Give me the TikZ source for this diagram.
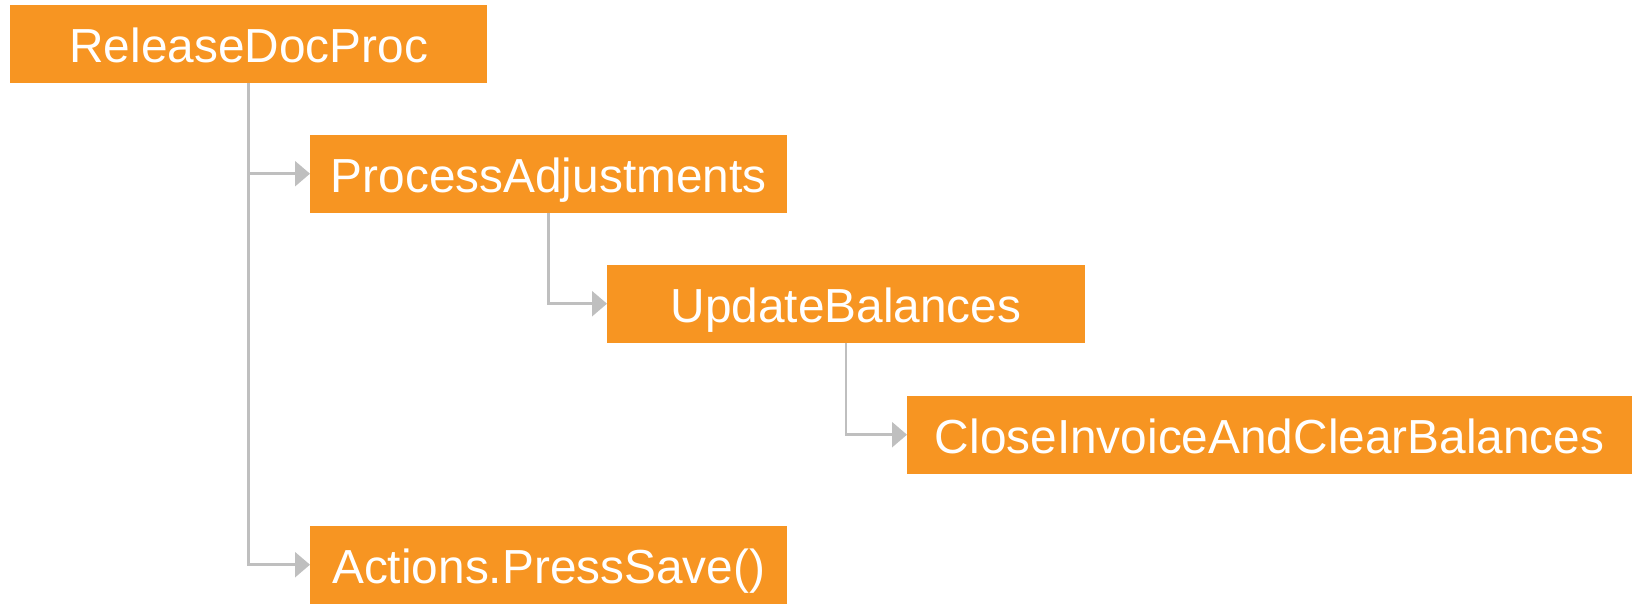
\documentclass[tikz,border=0pt]{standalone}
\usepackage{fontspec}
\setmainfont{Liberation Sans}
\usetikzlibrary{arrows.meta}
\definecolor{boxorange}{RGB}{247,149,34}
\definecolor{linkgray}{RGB}{191,191,191}
\tikzset{
  callbox/.style={fill=boxorange, draw=none, anchor=north west,
    minimum height=78pt, inner sep=0pt, text=white,
    font=\fontsize{47.8pt}{50pt}\selectfont, text height=37pt, text depth=0pt},
  conn/.style={draw=linkgray, line width=2.5pt,
    -{Triangle[length=15pt,width=25pt]}}
}
\begin{document}
\begin{tikzpicture}[x=1pt,y=-1pt]
  \useasboundingbox (0,0) rectangle (1632,605);
  \node[callbox, minimum width=477pt] (rdp) at (10,5) {ReleaseDocProc};
  \node[callbox, minimum width=477pt] (pa)  at (310,134.5) {ProcessAdjustments};
  \node[callbox, minimum width=477.5pt] (ub) at (607,264.5) {UpdateBalances};
  \node[callbox, minimum width=725pt] (ci)  at (907,395.5) {CloseInvoiceAndClearBalances};
  \node[callbox, minimum width=477pt] (aps) at (310,525.5) {Actions.PressSave()};
  \draw[conn] (rdp.south) |- (pa.west);
  \draw[conn] (rdp.south) |- (aps.west);
  \draw[conn] (pa.south) |- (ub.west);
  \draw[conn] (ub.south) |- (ci.west);
\end{tikzpicture}
\end{document}
